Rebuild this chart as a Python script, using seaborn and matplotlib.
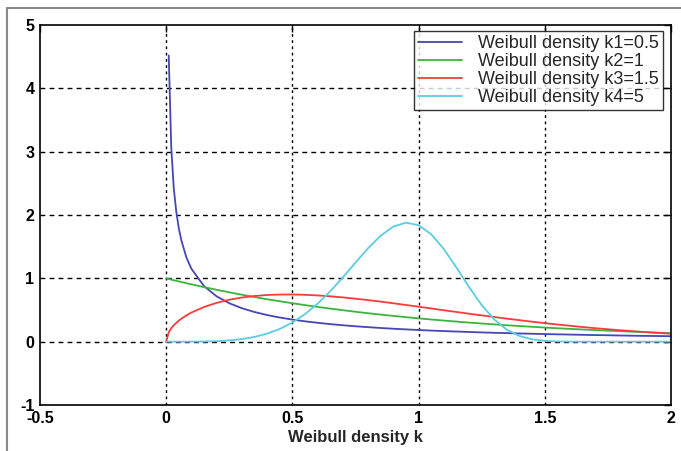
import numpy as np
import pandas as pd
import matplotlib
matplotlib.use("Agg")
import matplotlib.pyplot as plt
from matplotlib.lines import Line2D
import seaborn as sns

# values
x = [0, 0.01, 0.02, 0.03, 0.04, 0.05, 0.06, 0.08, 0.1, 0.15, 0.2, 0.25, 0.3, 0.35, 0.4, 0.45, 0.5,
     0.55, 0.6, 0.65, 0.7, 0.75, 0.8, 0.85, 0.9, 0.95, 1.0, 1.05, 1.1, 1.15, 1.2, 1.25,
     1.3, 1.35, 1.4, 1.45, 1.5, 1.55, 1.6, 1.65, 1.7, 1.75, 1.8, 1.85, 1.9, 1.95, 2.0]

# k1 curve starts at x=0.01 (no value at 0)
k1 = [np.nan, 4.52, 3.07, 2.42, 2.05, 1.79, 1.60, 1.33, 1.15, 0.876, 0.715, 0.607, 0.528, 0.468, 0.420, 0.381, 0.349,
      0.321, 0.298, 0.277, 0.259, 0.243, 0.229, 0.216, 0.204, 0.194, 0.184, 0.175, 0.167, 0.160, 0.153, 0.146,
      0.140, 0.135, 0.129, 0.125, 0.120, 0.116, 0.112, 0.108, 0.104, 0.101, 0.097, 0.094, 0.091, 0.089, 0.086]
k2 = [1.0, 0.990, 0.980, 0.970, 0.961, 0.951, 0.942, 0.923, 0.905, 0.861, 0.819, 0.779, 0.741, 0.705, 0.670, 0.638, 0.607,
      0.577, 0.549, 0.522, 0.497, 0.472, 0.449, 0.427, 0.407, 0.387, 0.368, 0.350, 0.333, 0.317, 0.301, 0.287,
      0.273, 0.259, 0.247, 0.235, 0.223, 0.212, 0.202, 0.192, 0.183, 0.174, 0.165, 0.157, 0.150, 0.142, 0.135]
k3 = [0.0, 0.150, 0.211, 0.258, 0.298, 0.332, 0.362, 0.415, 0.460, 0.548, 0.613, 0.662, 0.697, 0.721, 0.737, 0.744, 0.745,
      0.740, 0.730, 0.716, 0.699, 0.678, 0.656, 0.632, 0.606, 0.579, 0.552, 0.524, 0.496, 0.469, 0.441, 0.415,
      0.389, 0.363, 0.339, 0.315, 0.293, 0.271, 0.251, 0.231, 0.213, 0.196, 0.180, 0.165, 0.151, 0.138, 0.125]
k4 = [0.0, 0.0, 0.0, 0.0, 0.0, 0.0, 0.0, 0.0, 0.0005, 0.0025, 0.008, 0.020, 0.040, 0.075, 0.127, 0.201, 0.303,
      0.435, 0.600, 0.795, 1.015, 1.248, 1.476, 1.674, 1.817, 1.879, 1.839, 1.696, 1.463, 1.170, 0.862, 0.578,
      0.349, 0.188, 0.089, 0.037, 0.013, 0.004, 0.001, 0.0, 0.0, 0.0, 0.0, 0.0, 0.0, 0.0, 0.0]

labels = ["Weibull density k1=0.5", "Weibull density k2=1",
          "Weibull density k3=1.5", "Weibull density k4=5"]
colors = ["#4646b4", "#3cb43c", "#ff3a3a", "#5ccde0"]

x_ticks = [-0.5, 0, 0.5, 1, 1.5, 2]
x_ticklabels = ["-0.5", "0", "0.5", "1", "1.5", "2"]
y_ticks = [-1, 0, 1, 2, 3, 4, 5]

df = pd.DataFrame({"x": x, labels[0]: k1, labels[1]: k2, labels[2]: k3, labels[3]: k4})
long = df.melt(id_vars="x", var_name="curve", value_name="f").dropna()

sns.set_style("white")
plt.rcParams["font.family"] = ["Liberation Sans", "DejaVu Sans"]
plt.rcParams["axes.unicode_minus"] = False

fig = plt.figure(figsize=(6.81, 4.51), dpi=100)
ax = fig.add_axes([40 / 681, 1 - 405 / 451, 631 / 681, 380 / 451])

sns.lineplot(data=long, x="x", y="f", hue="curve", hue_order=labels,
             palette=colors, linewidth=1.3, ax=ax, sort=False)

ax.set_xlim(-0.5, 2)
ax.set_ylim(-1, 5)
ax.set_xticks(x_ticks)
ax.set_xticklabels(x_ticklabels)
ax.set_yticks(y_ticks)
for lab in ax.get_xticklabels() + ax.get_yticklabels():
    lab.set_fontweight("bold")
    lab.set_fontsize(11.5)
ax.tick_params(direction="in", length=5, width=1, top=True, right=True,
               colors="black", pad=4)
ax.set_xlabel("Weibull density k", fontsize=12, fontweight="bold", labelpad=3)
ax.set_ylabel("")

# dashed grid, like the matlab one
for xv in x_ticks[1:-1]:
    ax.axvline(xv, color="black", lw=1, ls=(0, (2, 2.5)), zorder=1)
for yv in y_ticks[1:-1]:
    ax.axhline(yv, color="black", lw=1, ls=(0, (3.5, 3)), zorder=1)

for s in ax.spines.values():
    s.set_color("black")
    s.set_linewidth(1.2)

leg = ax.legend(loc="upper right", bbox_to_anchor=(0.988, 0.985), fontsize=13,
                frameon=True, fancybox=False, handlelength=2.4, labelspacing=0.05,
                borderpad=0.25, handletextpad=0.9, borderaxespad=0)
leg.get_frame().set_edgecolor("black")
leg.get_frame().set_linewidth(1)
for line in leg.get_lines():
    line.set_linewidth(1.3)

# thin grey frame of the original picture
fig.add_artist(Line2D([7 / 681, 1], [1 - 8 / 451, 1 - 8 / 451], color="#8a8a8a", lw=1.5))
fig.add_artist(Line2D([7 / 681, 7 / 681], [0, 1 - 8 / 451], color="#8a8a8a", lw=1.5))

fig.savefig("out.png", dpi=100)
